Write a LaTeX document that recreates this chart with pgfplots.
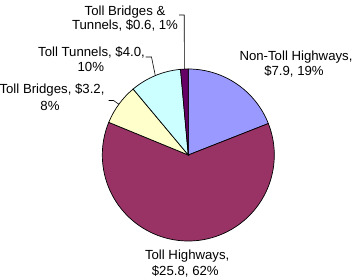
\documentclass[border=0pt]{standalone}
\usepackage{fontspec}
\setmainfont{Liberation Sans}
\usepackage{pgfplots}
\usepackage{pgfplotstable}
\pgfplotsset{compat=1.18}

\definecolor{slice0}{HTML}{9999FF}
\definecolor{slice1}{HTML}{993366}
\definecolor{slice2}{HTML}{FFFFCC}
\definecolor{slice3}{HTML}{CCFFFF}
\definecolor{slice4}{HTML}{660066}

% Non-Toll Highways, Toll Highways, Toll Bridges, Toll Tunnels, Toll Bridges & Tunnels
\pgfplotstableread{
idx value
0 7.9
1 25.8
2 3.2
3 4.0
4 0.6
}\piedata

\begin{document}
\begin{tikzpicture}
\begin{axis}[x=1bp, y=1bp, xmin=-188.3, xmax=164.7, ymin=-123, ymax=155,
  hide axis, clip=false, scale only axis]
\gdef\pietotal{0}
\pgfplotsforeachungrouped \i in {0,...,4}{%
  \pgfplotstablegetelem{\i}{value}\of\piedata
  \pgfmathparse{\pietotal+\pgfplotsretval}\xdef\pietotal{\pgfmathresult}%
}
\gdef\piecum{0}
\pgfplotsforeachungrouped \i in {0,...,4}{%
  \pgfplotstablegetelem{\i}{value}\of\piedata
  \pgfmathsetmacro\sa{90-360*\piecum/\pietotal}%
  \pgfmathparse{\piecum+\pgfplotsretval}\xdef\piecum{\pgfmathresult}%
  \pgfmathsetmacro\ea{90-360*\piecum/\pietotal}%
  \edef\tmp{\noexpand\filldraw[fill=slice\i, draw=black, line width=0.7bp]
    (axis cs:0,0) -- ++(\sa:86bp) arc[start angle=\sa, end angle=\ea, radius=86bp] -- cycle;}%
  \tmp
}
% leader lines
\draw[black, line width=0.6bp] (axis cs:-9.3,140) -- (axis cs:-4.1,140) -- (axis cs:-3.9,86);
\draw[black, line width=0.6bp] (axis cs:-42.8,98) -- (axis cs:-36.8,98) -- (axis cs:-33,79.4);
\draw[black, line width=0.6bp] (axis cs:-79.8,54.5) -- (axis cs:-74.8,54.5) -- (axis cs:-69.4,50.8);
% labels
\begin{scope}[every node/.style={anchor=base, inner sep=0pt, font=\fontsize{13.2bp}{16bp}\selectfont}]
\node at (axis cs:-63.3,140) {Toll Bridges \&};
\node at (axis cs:-63.3,126) {Tunnels, \$0.6, 1\%};
\node at (axis cs:-96.8,99) {Toll Tunnels, \$4.0,};
\node at (axis cs:-97.5,84) {10\%};
\node at (axis cs:-136.3,61.5) {Toll Bridges, \$3.2,};
\node at (axis cs:-138.3,44.5) {8\%};
\node at (axis cs:107.7,95) {Non-Toll Highways,};
\node at (axis cs:105.7,80) {\$7.9, 19\%};
\node at (axis cs:-1.1,-104.3) {Toll Highways,};
\node at (axis cs:-3,-120) {\$25.8, 62\%};
\end{scope}
\end{axis}
\pgfresetboundingbox
\path (current axis.south west) rectangle (current axis.north east);
\end{tikzpicture}
\end{document}
